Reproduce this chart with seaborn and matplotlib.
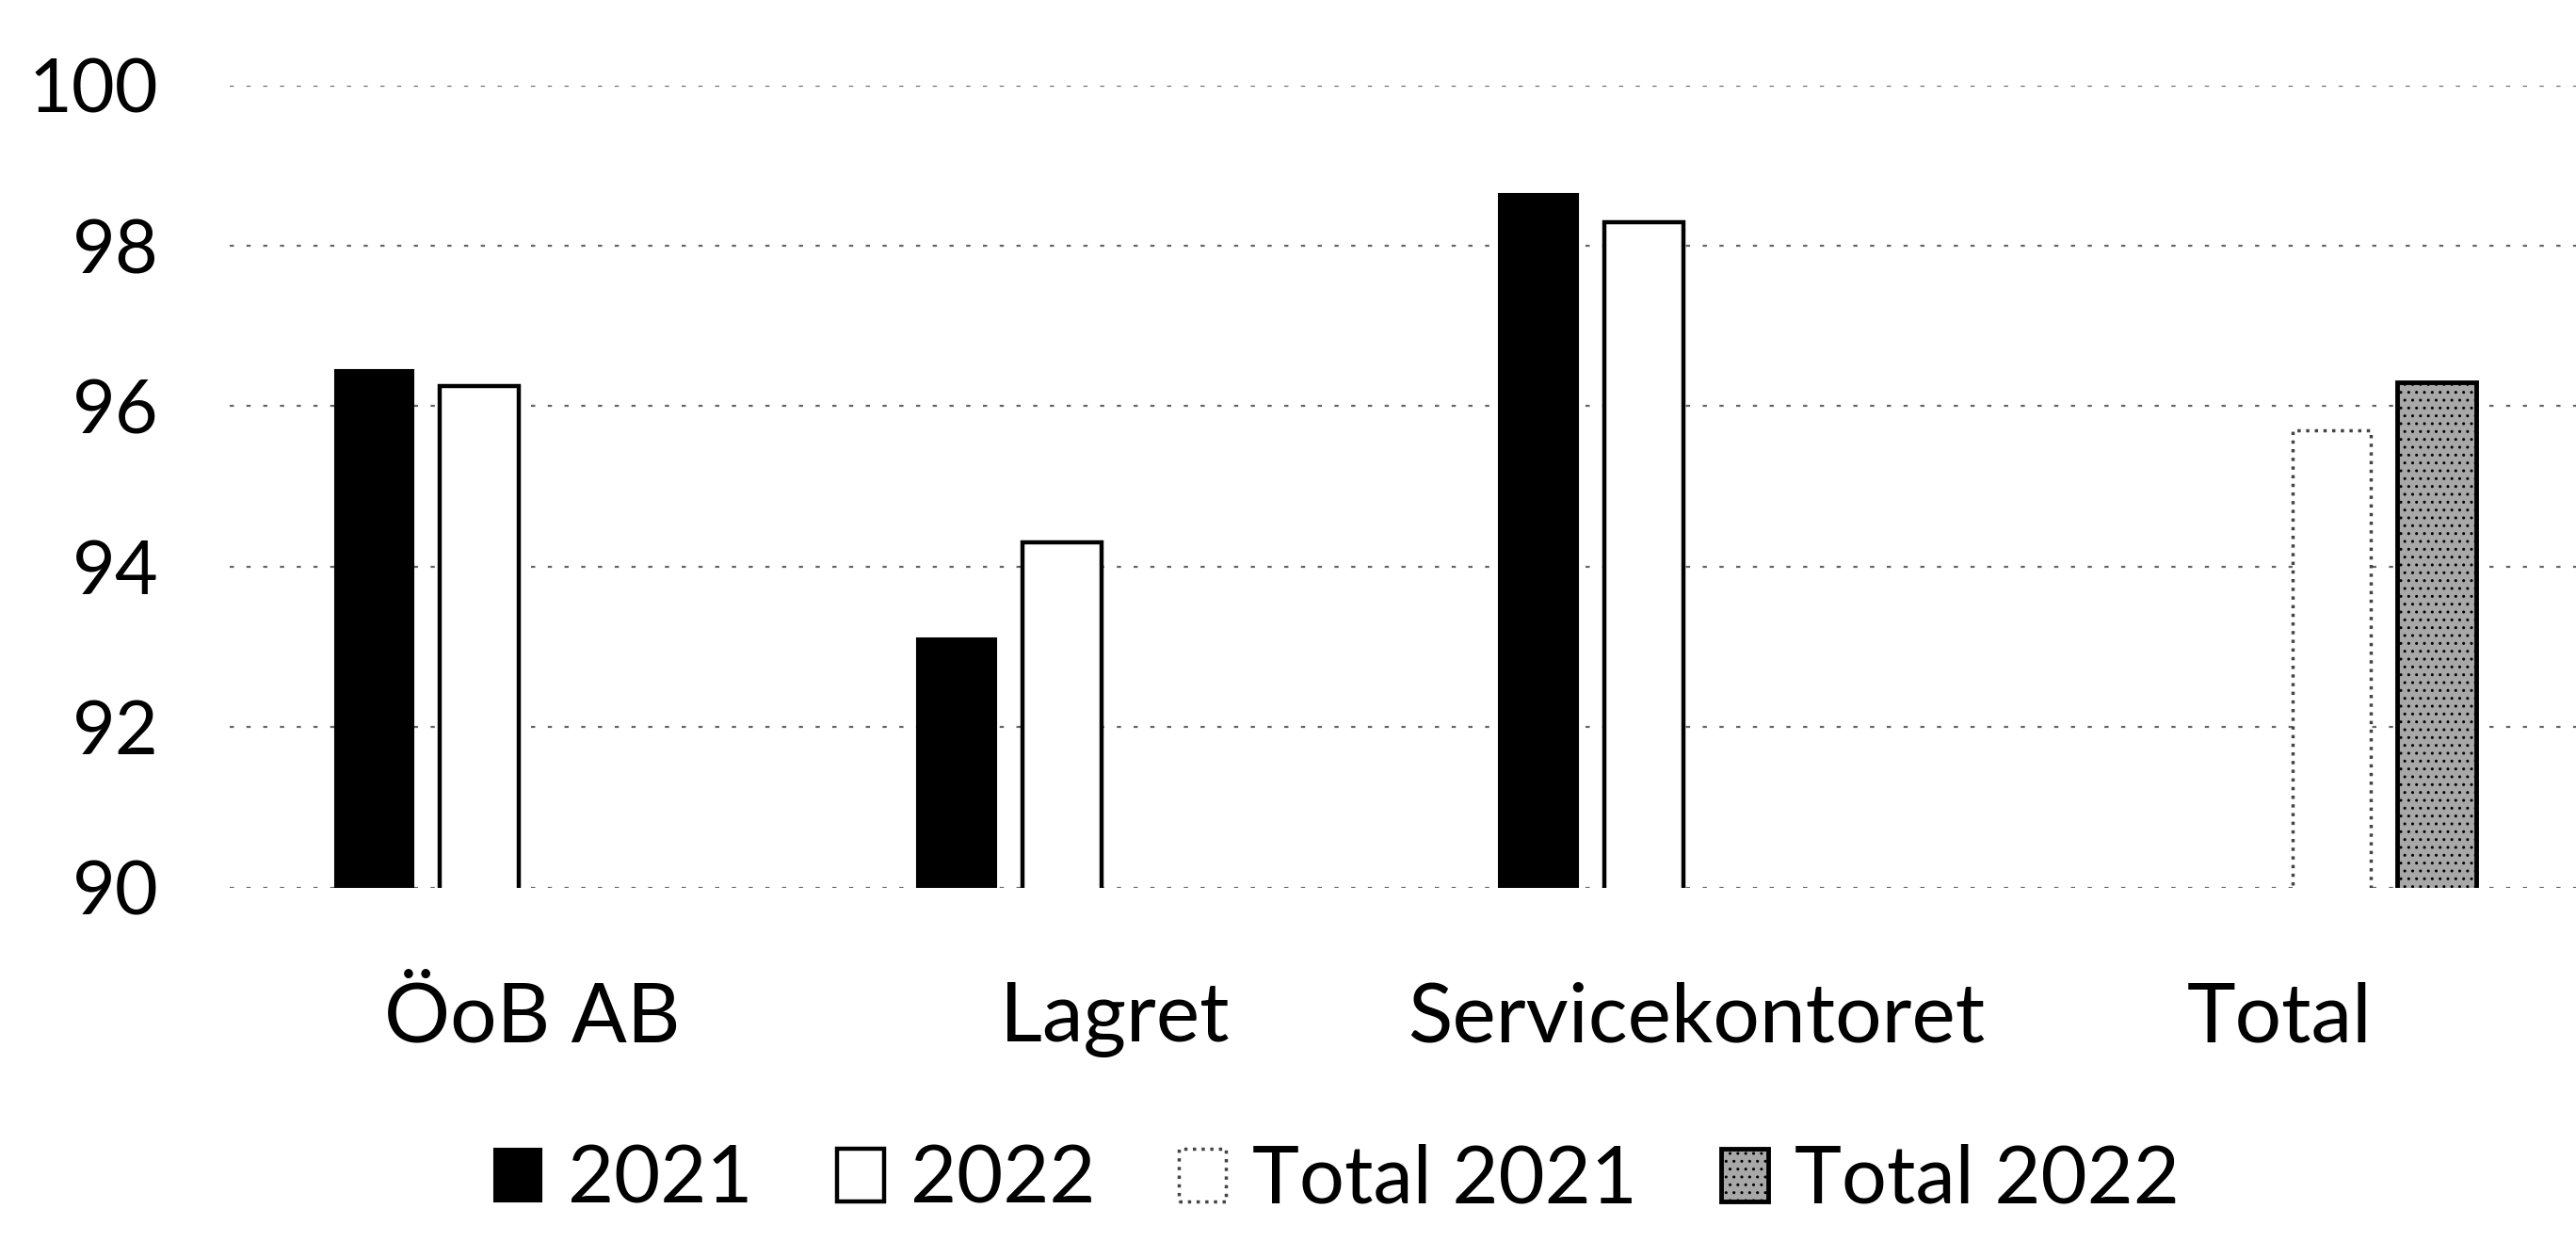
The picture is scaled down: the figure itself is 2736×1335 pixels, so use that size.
import matplotlib
matplotlib.use('Agg')
import matplotlib.pyplot as plt
import seaborn as sns
import pandas as pd

# data
categories = ['ÖoB AB', 'Lagret', 'Servicekontoret', 'Total']
series = ['2021', '2022', 'Total 2021', 'Total 2022']
values_2021 = [96.45, 93.1, 98.65]
values_2022 = [96.25, 94.3, 98.3]
total_2021 = [95.7]
total_2022 = [96.3]
yticks = [90, 92, 94, 96, 98, 100]

rows = []
for c, v in zip(categories[:3], values_2021):
    rows.append((c, '2021', v))
for c, v in zip(categories[:3], values_2022):
    rows.append((c, '2022', v))
rows.append((categories[3], 'Total 2021', total_2021[0]))
rows.append((categories[3], 'Total 2022', total_2022[0]))
df = pd.DataFrame(rows, columns=['Enhet', 'Serie', 'Värde'])

sns.set_style('white')
plt.rcParams['font.family'] = ['Lato', 'DejaVu Sans']
plt.rcParams['text.color'] = 'black'
plt.rcParams['xtick.color'] = 'black'
plt.rcParams['ytick.color'] = 'black'

fig = plt.figure(figsize=(27.36, 13.35), dpi=100)
ax = fig.add_axes([0.089, 0.294, 0.911, 0.638])

ax = sns.barplot(data=df, x='Enhet', y='Värde', hue='Serie', order=categories,
                 hue_order=series, palette=['black', 'white', 'white', '#a8a8a8'],
                 width=0.723, gap=0.25, legend=False, ax=ax)

# styling of each series
styles = [
    dict(edgecolor='black', linewidth=1.5, linestyle='-', hatch=None),
    dict(edgecolor='black', linewidth=3.2, linestyle='-', hatch=None),
    dict(edgecolor='#444444', linewidth=2.5, linestyle=':', hatch=None),
    dict(edgecolor='black', linewidth=3.5, linestyle='-', hatch='..'),
]
for cont, st in zip(ax.containers, styles):
    for p in cont.patches:
        p.set_edgecolor(st['edgecolor'])
        p.set_linewidth(st['linewidth'])
        p.set_linestyle(st['linestyle'])
        if st['hatch']:
            p.set_hatch(st['hatch'])

ax.set_ylim(90, 100)
ax.set_xlim(-0.52, 3.51)
ax.set_yticks(yticks)
ax.set_yticklabels([str(t) for t in yticks])
ax.yaxis.grid(True, color='#666666', linestyle=(0, (2, 6)), linewidth=1.6)
ax.set_axisbelow(True)
for s in ax.spines.values():
    s.set_visible(False)
ax.set_xlabel('')
ax.set_ylabel('')
ax.tick_params(axis='y', labelsize=57, pad=54, length=0, labelcolor='black')
ax.tick_params(axis='x', labelsize=63, pad=72, length=0, labelcolor='black')

handles = [cont.patches[0] for cont in ax.containers]
fig.legend(handles, series, loc='center', bbox_to_anchor=(0.519, 0.061),
           ncol=4, frameon=False, fontsize=61, handlelength=0.59,
           handleheight=0.65, handletextpad=0.33, columnspacing=1.05,
           labelcolor='black')

fig.savefig('out.png', dpi=100)
